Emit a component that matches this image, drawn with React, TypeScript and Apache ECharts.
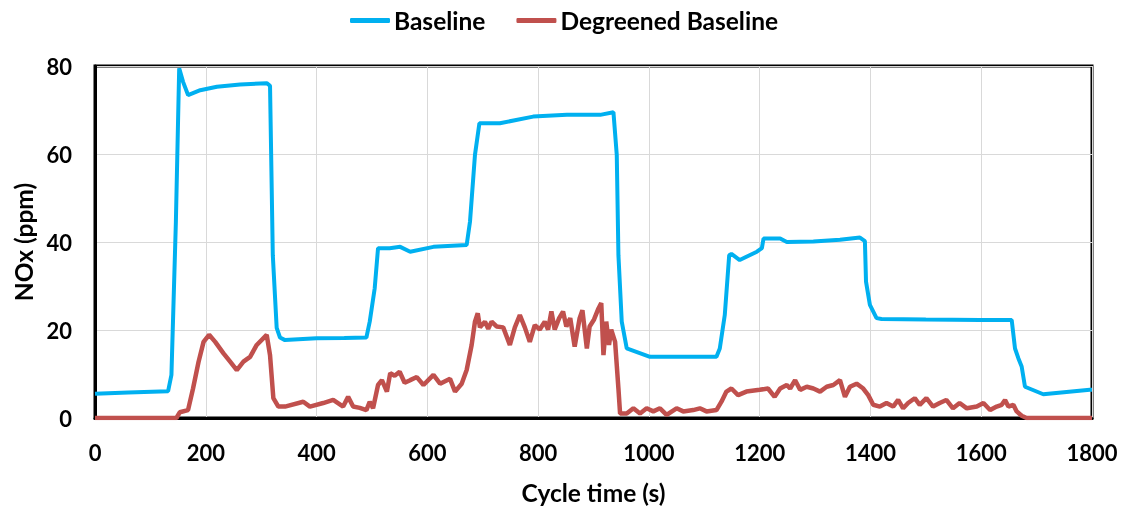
import React, { useEffect, useRef } from "react";
import * as echarts from "echarts";

// Baseline NOx trace: cycle time (s) and concentration (ppm)
const baselineTime = [
  0, 60, 132, 138, 146, 152, 159, 168, 190, 220, 262, 310, 316, 321, 328, 334, 343,
  400, 450, 490, 496, 505, 511, 532, 551, 569, 611, 671, 677, 686, 694, 731, 791, 852,
  912, 936, 942, 945, 951, 960, 1002, 1056, 1092, 1122, 1128, 1137, 1145, 1149, 1164,
  1195, 1204, 1207, 1237, 1249, 1297, 1345, 1381, 1390, 1392, 1399, 1411, 1420, 1500,
  1598, 1655, 1661, 1667, 1673, 1679, 1712, 1796, 1800,
];
const baselineNOx = [
  5.5, 5.8, 6.1, 9.8, 44.5, 79.5, 76.4, 73.4, 74.5, 75.3, 75.8, 76.1, 75.5, 37, 20.5, 18.3, 17.7,
  18.1, 18.2, 18.3, 21.9, 29.5, 38.6, 38.6, 38.9, 37.8, 38.9, 39.3, 44.6, 59.8, 67, 67, 68.5, 68.9,
  68.9, 69.5, 59.8, 37, 21.9, 15.8, 13.9, 13.9, 13.9, 13.9, 15.8, 23.4, 37, 37.3, 35.9,
  37.8, 38.6, 40.8, 40.8, 40.0, 40.1, 40.5, 41, 40.2, 31, 25.7, 22.7, 22.5, 22.4,
  22.3, 22.3, 15.8, 13.6, 11.7, 7.1, 5.4, 6.4, 6.4,
];

// Degreened baseline NOx trace
const degreenedTime = [
  0, 147, 153, 168, 177, 187, 196, 206, 217, 232, 244, 256, 268, 280, 292, 310, 316, 322, 331,
  343, 376, 388, 412, 430, 448, 457, 466, 478, 490, 496, 502, 511, 518, 527, 533, 541, 550, 559,
  569, 581, 593, 611, 623, 641, 650, 662, 671, 680, 686, 691, 695, 704, 710, 716, 725, 737, 749,
  758, 767, 776, 785, 794, 803, 812, 818, 824, 830, 838, 845, 851, 858, 866, 875, 880, 888, 893,
  901, 909, 914, 918, 923, 928, 932, 939, 945, 948, 960, 972, 984, 996, 1008, 1020, 1032, 1050,
  1062, 1080, 1092, 1104, 1122, 1131, 1140, 1149, 1161, 1176, 1200, 1215, 1227, 1237, 1249, 1255,
  1264, 1273, 1285, 1297, 1309, 1321, 1333, 1345, 1354, 1363, 1375, 1387, 1396, 1405, 1417, 1429,
  1441, 1450, 1459, 1468, 1480, 1489, 1501, 1513, 1525, 1537, 1549, 1561, 1574, 1592, 1604, 1616,
  1628, 1637, 1643, 1649, 1658, 1664, 1673, 1682, 1800,
];
const degreenedNOx = [
  0, 0, 1.3, 1.8, 6.7, 12.8, 17.3, 18.9, 17.3, 14.7, 12.8, 10.9, 12.8, 13.9, 16.6, 18.9, 14.3, 4.5, 2.6,
  2.6, 3.7, 2.6, 3.4, 4.1, 2.6, 4.8, 2.6, 2.3, 1.8, 3.7, 2.2, 7.5, 8.6, 6.0, 10.2, 9.6, 10.5, 8.0,
  8.6, 9.3, 7.5, 9.8, 7.8, 8.9, 6.0, 7.8, 10.9, 16.6, 21.9, 23.8, 20.6, 21.9, 20.3, 21.9, 20.8, 20.6, 16.6,
  20.6, 23.4, 20.6, 17.3, 21.1, 20.1, 21.9, 20.1, 24.2, 20.1, 22.7, 24.2, 20.8, 22.7, 16.2, 22.7, 24.5, 15.8, 20.8,
  22.4, 24.9, 26.1, 14.3, 21.9, 16.6, 20.1, 17.3, 6.7, 1.0, 1.0, 2.2, 1.0, 2.2, 1.5, 2.2, 0.7, 2.2,
  1.5, 1.8, 2.2, 1.5, 1.8, 3.7, 6.0, 6.7, 5.2, 6.0, 6.4, 6.7, 4.8, 6.7, 7.5, 6.7,
  8.6, 6.4, 7.1, 6.7, 6.0, 7.1, 7.5, 8.6, 4.8, 7.1, 7.8, 6.7, 5.2, 3.0, 2.6, 3.4,
  2.6, 4.1, 2.2, 3.4, 4.5, 3.0, 4.5, 2.6, 3.4, 4.1, 2.2, 3.4, 2.2, 2.6, 3.4, 1.8,
  2.6, 3.0, 4.1, 2.6, 3.0, 1.5, 0.5, 0, 0,
];

const xTicks = { min: 0, max: 1800, interval: 200 };
const yTicks = { min: 0, max: 80, interval: 20 };

const FONT = "Lato";

function zip(t: number[], v: number[]) {
  return t.map((x, i) => [x, v[i]]);
}

export default function App() {
  const ref = useRef<HTMLDivElement>(null);

  useEffect(() => {
    if (!ref.current) return;
    const chart = echarts.init(ref.current, undefined, { renderer: "svg" });
    const tickText = { fontFamily: FONT, fontWeight: "bold" as const, fontSize: 22, color: "#000" };
    const titleText = { ...tickText, fontSize: 24.5 };
    chart.setOption({
      animation: false,
      legend: {
        top: 3,
        left: 345,
        itemGap: 31,
        itemWidth: 40,
        itemHeight: 5,
        icon: "roundRect",
        textStyle: { ...titleText, padding: [0, 0, 0, -1] },
        data: ["Baseline", "Degreened Baseline"],
      },
      grid: { left: 95, right: 42, top: 66, bottom: 94, show: true, borderColor: "#000", borderWidth: 3 },
      xAxis: {
        type: "value",
        ...xTicks,
        name: "Cycle time (s)",
        nameLocation: "middle",
        nameGap: 62,
        nameTextStyle: titleText,
        axisLine: { show: true, lineStyle: { color: "#000", width: 3 } },
        axisTick: { show: false },
        axisLabel: { ...tickText, margin: 23, formatter: (v: number) => String(v) },
        splitLine: { show: true, lineStyle: { color: "#d9d9d9", width: 1 } },
      },
      yAxis: {
        type: "value",
        ...yTicks,
        name: "NOx (ppm)",
        nameLocation: "middle",
        nameGap: 59,
        nameTextStyle: titleText,
        axisLine: { show: true, lineStyle: { color: "#000", width: 3 } },
        axisTick: { show: false },
        axisLabel: { ...tickText, margin: 23, formatter: (v: number) => String(v) },
        splitLine: { show: true, lineStyle: { color: "#d9d9d9", width: 1 } },
      },
      series: [
        {
          name: "Baseline",
          type: "line",
          data: zip(baselineTime, baselineNOx),
          symbol: "none",
          lineStyle: { color: "#00B0F0", width: 4 },
          itemStyle: { color: "#00B0F0" },
        },
        {
          name: "Degreened Baseline",
          type: "line",
          data: zip(degreenedTime, degreenedNOx),
          symbol: "none",
          lineStyle: { color: "#C0504D", width: 4.5 },
          itemStyle: { color: "#C0504D" },
        },
      ],
    });
    return () => chart.dispose();
  }, []);

  return (
    <div
      ref={ref}
      style={{ position: "fixed", left: 0, top: 0, width: 1134, height: 512 }}
    />
  );
}
